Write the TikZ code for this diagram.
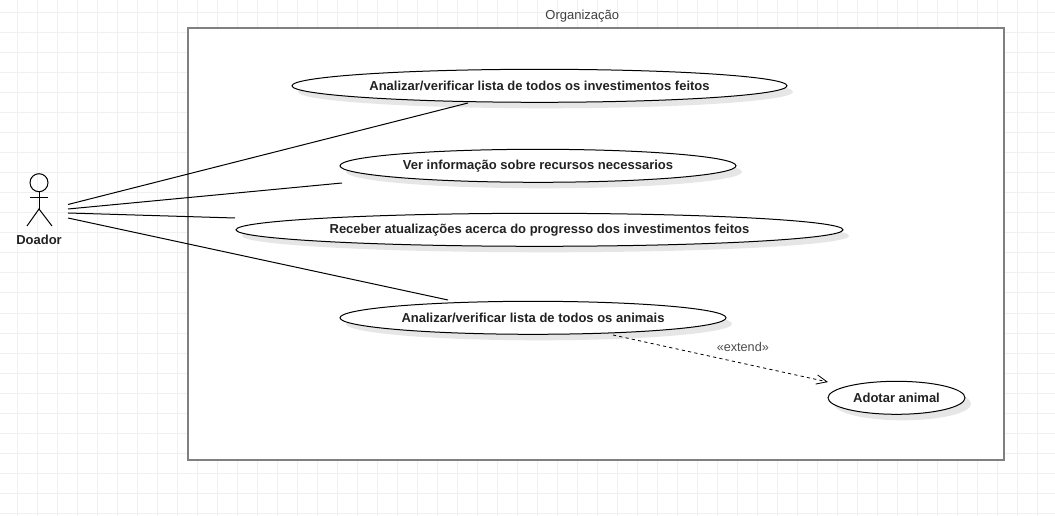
\documentclass[tikz,border=0pt]{standalone}
\usepackage{fontspec}
\setmainfont{Liberation Sans}
\usetikzlibrary{shapes.geometric,arrows.meta}
\definecolor{gridc}{HTML}{F0F0F0}
\definecolor{framec}{HTML}{808080}
\definecolor{shadowc}{HTML}{E6E6E6}
\definecolor{txtc}{HTML}{222222}
\tikzset{
  usecase/.style={draw=black,fill=white,ellipse,line width=0.75pt,inner sep=0pt,
    minimum width=#1*0.75pt,minimum height=33*0.75pt,text=txtc,
    font=\fontsize{9.75}{11}\selectfont\bfseries,
    preaction={draw=none,fill=shadowc,transform canvas={xshift=4.5pt,yshift=-4.5pt}}},
  assoc/.style={draw=black,line width=0.75pt},
  plainlabel/.style={inner sep=0pt,font=\fontsize{9.75}{11}\selectfont},
  actorline/.style={draw=black,line width=0.75pt}
}
\begin{document}
\begin{tikzpicture}[x=0.75pt,y=-0.75pt]
\useasboundingbox (0,0) rectangle (1055,516);
\fill[white] (0,0) rectangle (1055,516);
\foreach \gx in {0,...,52}{\draw[gridc,line width=0.75pt] ({17+20*\gx},0) -- ({17+20*\gx},516);}
\foreach \gy in {0,...,25}{\draw[gridc,line width=0.75pt] (0,{13+20*\gy}) -- (1055,{13+20*\gy});}
% frame
\node[draw=framec,fill=white,line width=1.5pt,rectangle,inner sep=0pt,minimum width=816*0.75pt,minimum height=432*0.75pt] (frame) at (596,244.3) {};
\node[plainlabel,text=black!75] (org) at (582.3,16) {Organização};
% use cases
\node[usecase=495] (uc1) at (539.5,85.8) {Analizar/verificar lista de todos os investimentos feitos};
\node[usecase=396] (uc2) at (538,165.8) {Ver informação sobre recursos necessarios};
\node[usecase=607] (uc3) at (539.5,229.8) {Receber atualizações acerca do progresso dos investimentos feitos};
\node[usecase=386] (uc4) at (533,317.8) {Analizar/verificar lista de todos os animais};
\node[usecase=137] (uc5) at (896.5,397.8) {Adotar animal};
% actor
\node[draw=black,circle,line width=0.75pt,minimum size=18*0.75pt,inner sep=0pt] (head) at (39,182.7) {};
\coordinate (hip) at (39,209);
\coordinate (armL) at (30,197.7);
\coordinate (armR) at (48,197.7);
\coordinate (legL) at (27,226);
\coordinate (legR) at (52,226);
\draw[actorline] (head.south) -- (hip);
\draw[actorline] (armL) -- (armR);
\draw[actorline] (legL) -- (hip) -- (legR);
\node[plainlabel,font=\fontsize{9.75}{11}\selectfont\bfseries,text=txtc] (doador) at (39,239.5) {Doador};
% connector ends
\coordinate (a1) at (68,204.5);
\coordinate (a2) at (68,209);
\coordinate (a3) at (68,213);
\coordinate (a4) at (68,218);
\coordinate (e1) at (468,103);
\coordinate (e2) at (342,183);
\coordinate (e3) at (235,218);
\coordinate (e4) at (448,300);
\coordinate (x1) at (613,335);
\coordinate (x2) at (828,382);
\draw[assoc] (a1) -- (e1);
\draw[assoc] (a2) -- (e2);
\draw[assoc] (a3) -- (e3);
\draw[assoc] (a4) -- (e4);
\draw[assoc,line width=0.6pt,dash pattern=on 2.4pt off 2.4pt,-{Straight Barb[length=8pt,width=7pt,line width=0.6pt]}] (x1) -- (x2);
\node[plainlabel,font=\fontsize{9.5}{10}\selectfont,text=black!70] (ext) at (742.8,347) {«extend»};
\end{tikzpicture}
\end{document}
